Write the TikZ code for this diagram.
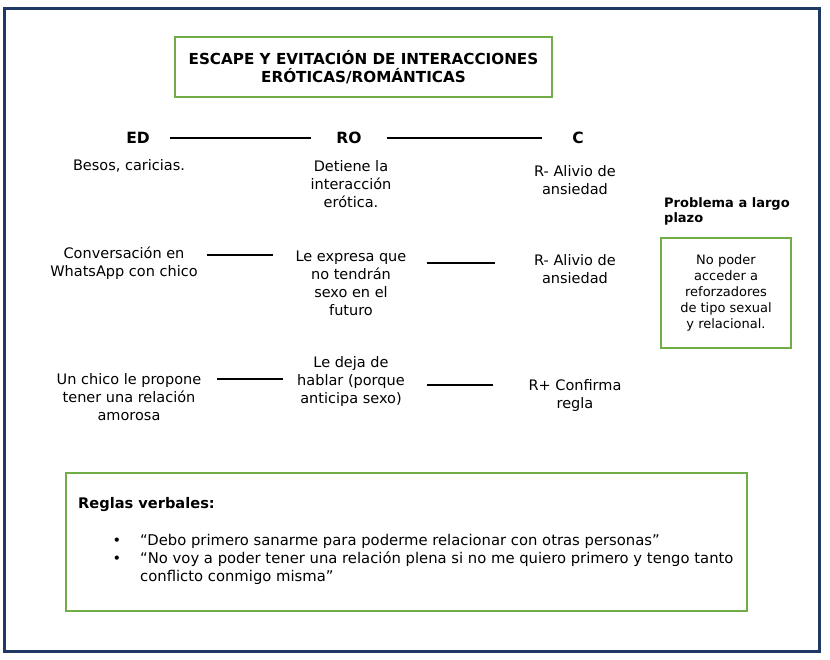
\documentclass[tikz,border=0pt]{standalone}
\usepackage{fontspec}
\setmainfont{DejaVu Sans}
\usetikzlibrary{positioning}
\definecolor{framenavy}{RGB}{31,56,100}
\definecolor{boxgreen}{RGB}{112,173,71}

\begin{document}
\begin{tikzpicture}[x=1pt, y=-1pt,
  txt/.style={align=center, inner sep=4pt, font=\fontsize{14.5}{18}\selectfont},
  head/.style={inner sep=4pt, font=\fontsize{15.5}{18}\selectfont\bfseries},
  small/.style={align=center, inner sep=4pt, font=\fontsize{13}{16}\selectfont},
  greenbox/.style={draw=boxgreen, line width=1.6pt},
  link/.style={line width=1.3pt, black}]
  \useasboundingbox (0,0) rectangle (830,659);
  \draw[framenavy, line width=3pt] (4.5,8.5) rectangle (819.5,651.5);

  % title
  \node[greenbox, align=center, minimum width=377pt, minimum height=60pt, font=\fontsize{15.2}{18}\selectfont\bfseries] (title) at (363.5,67) {ESCAPE Y EVITACIÓN DE INTERACCIONES\\ERÓTICAS/ROMÁNTICAS};

  % column heads
  \node[head] (ed) at (138,138) {ED};
  \node[head] (ro) at (349,138) {RO};
  \node[head] (c) at (578,138) {C};
  \draw[link, shorten <=16.3pt, shorten >=21.3pt] (ed) -- (ro);
  \draw[link, shorten <=20.8pt, shorten >=26.2pt] (ro) -- (c);

  % first row
  \node[txt] (besos) at (129,166) {Besos, caricias.};
  \node[txt] (detiene) at (351,184) {Detiene la\\interacción\\erótica.};
  \node[txt] (alivioa) at (575,180) {R- Alivio de\\ansiedad};

  % second row
  \node[txt] (whatsapp) at (124,263) {Conversación en\\WhatsApp con chico};
  \node[txt] (expresa) at (351,283) {Le expresa que\\no tendrán\\sexo en el\\futuro};
  \node[txt] (aliviob) at (575,269) {R- Alivio de\\ansiedad};
  \draw[link, shorten <=5pt, shorten >=18pt] (whatsapp.east |- 0,255) -- (expresa.west |- 0,255);
  \draw[link, shorten <=16pt, shorten >=35pt] (expresa.east |- 0,263) -- (aliviob.west |- 0,263);

  % third row
  \node[txt] (chico) at (129,397) {Un chico le propone\\tener una relación\\amorosa};
  \node[txt] (deja) at (351,381) {Le deja de\\hablar (porque\\anticipa sexo)};
  \node[txt] (confirma) at (575,395) {R+ Confirma\\regla};
  \draw[link, shorten <=12pt, shorten >=10pt] (chico.east |- 0,379) -- (deja.west |- 0,379);
  \draw[link, shorten <=18pt, shorten >=31pt] (deja.east |- 0,385) -- (confirma.west |- 0,385);

  % long term problem
  \node[inner sep=0pt, align=left, anchor=west, font=\fontsize{13}{15}\selectfont\bfseries] (problema) at (664,211.5) {Problema a largo\\plazo};
  \node[greenbox, small, minimum width=130pt, minimum height=110pt] (plazo) at (726,293) {No poder\\acceder a\\reforzadores\\de tipo sexual\\y relacional.};

  % verbal rules
  \node[greenbox, minimum width=681pt, minimum height=138pt] (reglasbox) at (406.5,542) {};
  \node[inner sep=0pt, anchor=base west, font=\fontsize{14.6}{18}\selectfont\bfseries] (reglas) at (78,508) {Reglas verbales:};
  \node[txt, inner sep=0pt, anchor=base] (bulleta) at (117,545) {\textbullet};
  \node[txt, inner sep=0pt, anchor=base] (bulletb) at (117,563) {\textbullet};
  \node[inner sep=0pt, anchor=base west, font=\fontsize{14.8}{18}\selectfont] (reglaa) at (140,545) {“Debo primero sanarme para poderme relacionar con otras personas”};
  \node[inner sep=0pt, anchor=base west, align=left, font=\fontsize{14.8}{18}\selectfont] (reglab) at (140,581) {“No voy a poder tener una relación plena si no me quiero primero y tengo tanto\\conflicto conmigo misma”};
\end{tikzpicture}
\end{document}
